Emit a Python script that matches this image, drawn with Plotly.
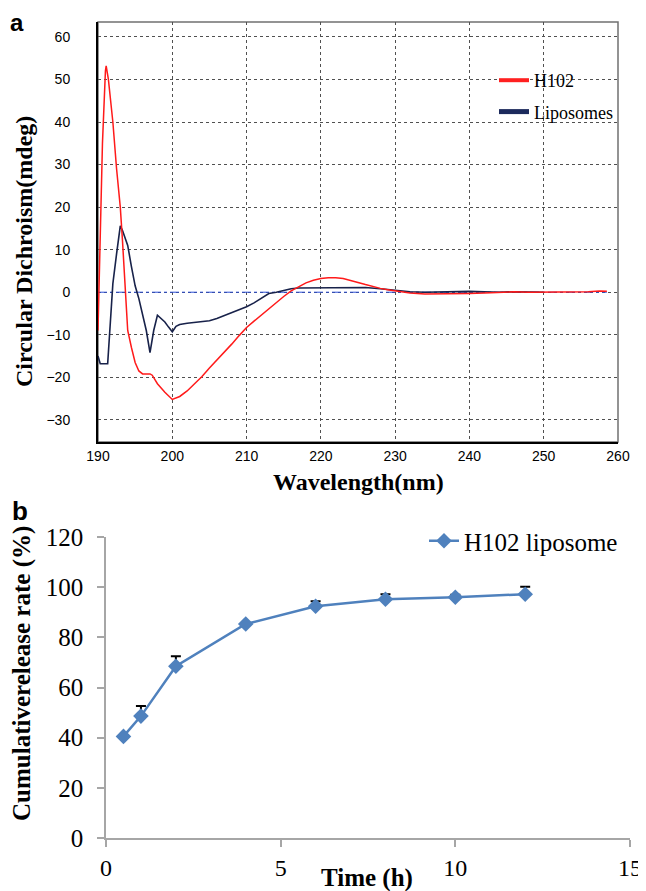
import plotly.graph_objects as go

# ---------------- Panel a data (CD spectra) ----------------
wl_h102 = [190.0, 190.3, 190.6, 191.0, 191.1, 191.4, 191.8, 192.0, 192.5, 193.0, 193.3, 193.6,
           194.0, 194.5, 195.0, 195.5, 196.0, 197.0, 197.3, 198.0, 199.0, 200.0, 201.0, 202.0,
           203.0, 204.0, 205.0, 206.0, 207.0, 208.0, 209.0, 210.0, 211.0, 212.0, 213.0, 214.0,
           215.0, 216.0, 217.0, 218.0, 219.0, 220.0, 221.0, 222.0, 223.0, 224.0, 225.0, 226.0,
           227.0, 228.0, 229.0, 230.0, 231.0, 232.0, 234.0, 236.0, 238.0, 240.0, 242.0, 244.0,
           246.0, 248.0, 250.0, 252.0, 254.0, 256.0, 257.5, 258.5]
cd_h102 = [-9.0, 10.0, 35.0, 52.0, 53.2, 50.0, 44.0, 40.0, 29.0, 20.0, 12.0, 3.0,
           -9.0, -13.0, -16.5, -18.5, -19.2, -19.2, -19.5, -21.5, -23.5, -25.2, -24.5, -23.2,
           -21.5, -19.8, -17.8, -16.0, -14.0, -12.2, -10.2, -8.3, -6.8, -5.3, -3.8, -2.4,
           -1.0, 0.3, 1.3, 2.2, 2.8, 3.2, 3.4, 3.4, 3.2, 2.8, 2.3, 1.8,
           1.3, 0.9, 0.6, 0.3, 0.1, -0.2, -0.4, -0.4, -0.4, -0.3, -0.2, 0.0,
           0.1, 0.0, 0.0, 0.1, 0.0, 0.1, 0.3, 0.2]

wl_lipo = [190.0, 190.3, 191.3, 191.6, 192.0, 192.5, 193.0, 193.3, 194.0, 194.5, 195.0, 195.5,
           196.0, 196.5, 197.0, 197.5, 198.0, 198.5, 199.0, 199.5, 200.0, 200.5, 201.0, 202.0,
           203.0, 204.0, 205.0, 206.0, 207.0, 208.0, 209.0, 210.0, 211.0, 212.0, 213.0, 214.0,
           215.0, 216.0, 217.0, 218.0, 220.0, 222.0, 224.0, 226.0, 228.0, 230.0, 232.0, 234.0,
           236.0, 238.0, 240.0, 242.0, 244.0, 246.0, 248.0, 250.0]
cd_lipo = [-15.0, -16.8, -16.8, -8.0, 2.0, 9.0, 15.6, 14.5, 11.0, 6.0, 1.5, -1.5,
           -5.0, -9.0, -14.2, -9.0, -5.4, -6.2, -7.0, -8.2, -9.3, -8.0, -7.6, -7.3,
           -7.1, -7.0, -6.7, -6.2, -5.5, -4.8, -4.1, -3.4, -2.5, -1.3, -0.3, 0.0,
           0.4, 0.8, 1.0, 1.0, 1.1, 1.1, 1.1, 1.1, 0.8, 0.5, 0.1, 0.0,
           0.1, 0.1, 0.2, 0.1, 0.0, 0.1, 0.0, 0.0]

wl_base = [190.0, 258.5]
cd_base = [0.0, 0.0]

cd_xticks = [190, 200, 210, 220, 230, 240, 250, 260]
cd_yticks = [-30, -20, -10, 0, 10, 20, 30, 40, 50, 60]

# ---------------- Panel b data (release) ----------------
time_h = [0.5, 1, 2, 4, 6, 8, 10, 12]
release = [40.5, 48.6, 68.5, 85.3, 92.4, 95.2, 96.0, 97.2]
release_err = [0.5, 4.0, 4.0, 0.3, 2.0, 2.0, 1.0, 3.0]
rel_xticks = [0, 5, 10, 15]
rel_yticks = [0, 20, 40, 60, 80, 100, 120]

W, H = 646, 891
OFF = 8  # page body margin offset of the rendered figure
def px(x): return (x - OFF) / W
def py(y): return 1 - (y - OFF) / H

SERIF = "Liberation Serif"
SANS = "Liberation Sans"

fig = go.Figure()

# Panel a traces
fig.add_trace(go.Scatter(x=wl_base, y=cd_base, mode="lines", xaxis="x", yaxis="y",
                         line=dict(color="#2b4fd8", width=1, dash="dashdot"),
                         showlegend=False, hoverinfo="skip"))
fig.add_trace(go.Scatter(x=wl_lipo, y=cd_lipo, mode="lines", xaxis="x", yaxis="y",
                         line=dict(color="#18224a", width=1.6), showlegend=False))
fig.add_trace(go.Scatter(x=wl_h102, y=cd_h102, mode="lines", xaxis="x", yaxis="y",
                         line=dict(color="#ff1a1a", width=1.5), showlegend=False))
# legend entries for panel a
fig.add_trace(go.Scatter(x=[None], y=[None], mode="lines", xaxis="x", yaxis="y",
                         line=dict(color="#ff2020", width=4), name="H102",
                         legend="legend", legendgroup="g1"))
fig.add_trace(go.Scatter(x=[None], y=[None], mode="lines", xaxis="x", yaxis="y",
                         line=dict(color="#1c2a5c", width=5), name="Liposomes",
                         legend="legend", legendgroup="g2"))

# Panel b trace
fig.add_trace(go.Scatter(x=time_h, y=release, mode="lines+markers", xaxis="x2", yaxis="y2",
                         name="H102 liposome", legend="legend2",
                         line=dict(color="#4f81bd", width=2.5),
                         marker=dict(symbol="diamond", size=12, color="#4f81bd"),
                         error_y=dict(type="data", symmetric=False, array=release_err,
                                      arrayminus=[0] * len(release_err),
                                      color="black", thickness=2, width=5)))

grid = dict(showgrid=True, gridcolor="#505050", griddash="dot", gridwidth=1, zeroline=False,
            automargin=False)

def ann(text, x, y, size, family=SERIF, angle=0):
    return dict(text=text, x=px(x), y=py(y), xref="paper", yref="paper", showarrow=False,
                xanchor="center", yanchor="middle", textangle=angle,
                font=dict(family=family, size=size, color="black"))

fig.update_layout(
    width=W, height=H, margin=dict(l=0, r=0, t=0, b=0, autoexpand=False),
    paper_bgcolor="white", plot_bgcolor="white",
    xaxis=dict(domain=[px(98), px(618)], range=[190, 260], tickvals=cd_xticks, anchor="y",
               showline=True, linecolor="black", linewidth=2, ticks="",
               tickfont=dict(family=SANS, size=14, color="black"), **grid),
    yaxis=dict(domain=[py(442), py(22)], range=[-35.2, 63.5], tickvals=cd_yticks, anchor="x",
               showline=True, linecolor="black", linewidth=2, ticks="",
               ticklabelstandoff=23,
               tickfont=dict(family=SANS, size=14, color="black"), **grid),
    xaxis2=dict(domain=[px(106), px(630)], range=[0, 15], tickvals=rel_xticks, anchor="y2",
                showline=True, linecolor="#a6a6a6", linewidth=1.5, showgrid=False, zeroline=False,
                automargin=False,
                ticks="outside", ticklen=7, tickwidth=1.5, tickcolor="#a6a6a6",
                tickfont=dict(family=SERIF, size=24, color="black")),
    yaxis2=dict(domain=[py(838), py(537)], range=[0, 120], tickvals=rel_yticks, anchor="x2",
                showline=True, linecolor="#a6a6a6", linewidth=1.5, showgrid=False, zeroline=False,
                automargin=False, ticklabelstandoff=9,
                ticks="outside", ticklen=7, tickwidth=1.5, tickcolor="#a6a6a6",
                tickfont=dict(family=SERIF, size=25, color="black")),
    legend=dict(x=px(494), y=py(62), xanchor="left", yanchor="top", bgcolor="rgba(0,0,0,0)",
                font=dict(family=SERIF, size=18, color="black"), tracegroupgap=5),
    legend2=dict(x=px(424), y=py(518), xanchor="left", yanchor="top", bgcolor="rgba(0,0,0,0)",
                 font=dict(family=SERIF, size=25, color="black")),
    shapes=[dict(type="rect", xref="paper", yref="paper", x0=px(98), x1=px(618),
                 y0=py(442), y1=py(22), line=dict(color="#707070", width=1.5), layer="between")],
    annotations=[
        ann("<b>a</b>", 17, 22, 24, SANS),
        ann("<b>b</b>", 20, 511, 26, SANS),
        ann("<b>Circular Dichroism(mdeg)</b>", 24, 252, 24, angle=-90),
        ann("<b>Wavelength(nm)</b>", 358, 482, 24),
        ann("<b>Cumulativerelease rate (%)</b>", 22, 674, 25, angle=-90),
        ann("<b>Time (h)</b>", 367, 878, 25),
    ],
)

fig.write_html("out.html")
